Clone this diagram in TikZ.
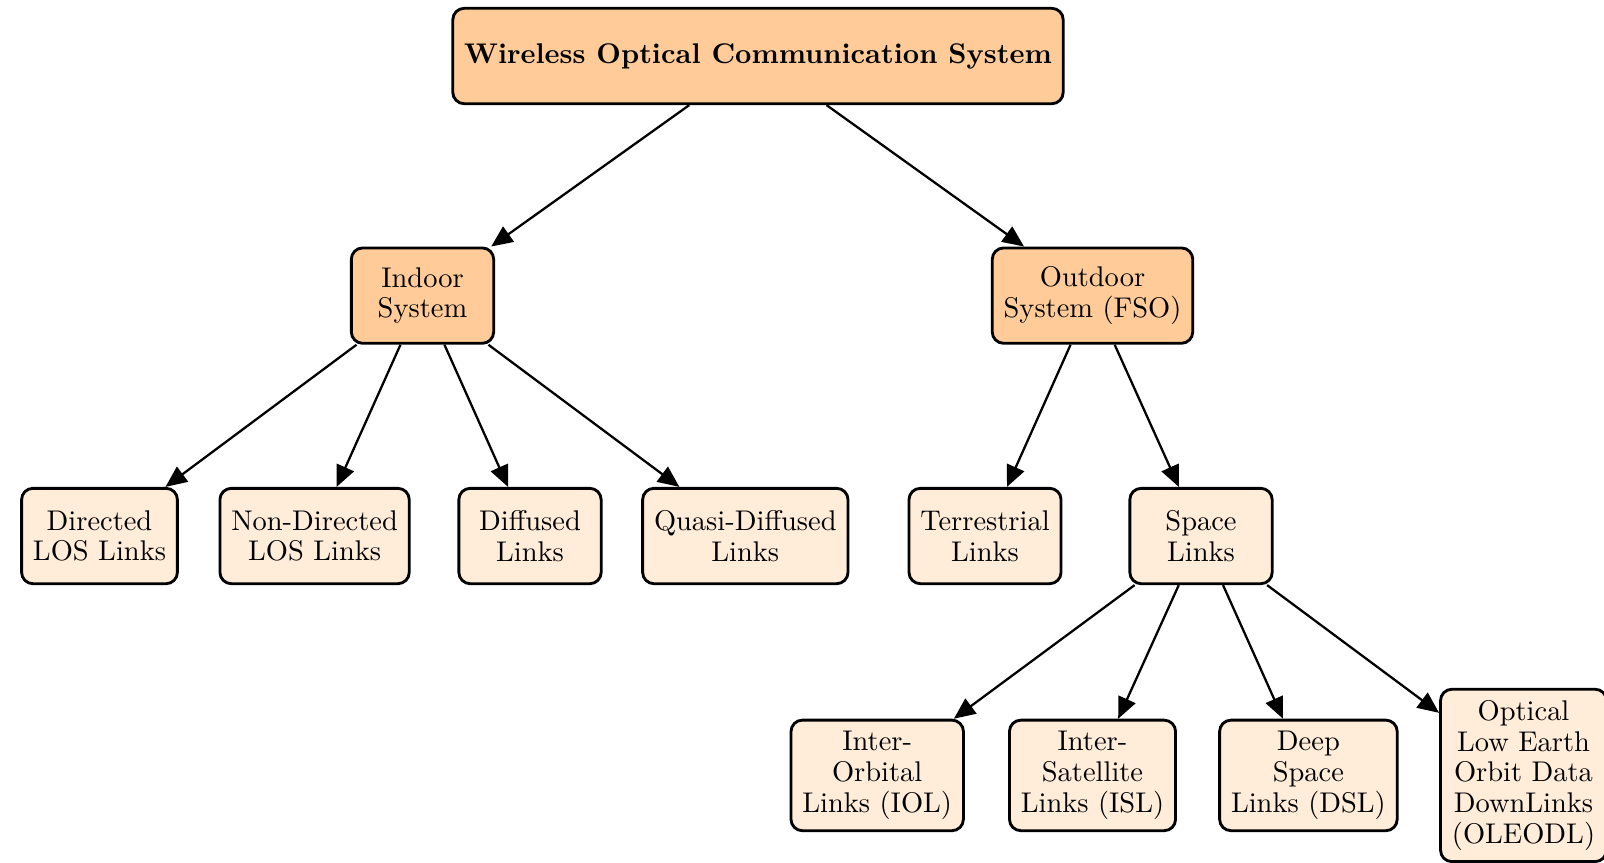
\documentclass[tikz,border=0pt]{standalone}
\usetikzlibrary{arrows.meta}

\begin{document}
\begin{tikzpicture}[x=0.01234cm,y=-0.01234cm,
    box/.style={draw, line width=1pt, rounded corners=4pt, align=center,
      inner sep=4pt, minimum width=50pt, minimum height=33.5pt,
      font=\fontsize{10}{10.75}\selectfont},
    rootbox/.style={box, fill=orange!40, font=\bfseries},
    midbox/.style={box, fill=orange!40},
    leafbox/.style={box, fill=orange!15},
    arr/.style={-{Triangle[length=7.5pt,width=6.5pt]}, line width=0.8pt}]
    \useasboundingbox (0,0) rectangle (1604,862);

    % root
    \node[rootbox] (wocs) at (758,56) {Wireless Optical Communication System};

    % second level
    \node[midbox] (indoor)  at (422.5,295.6) {Indoor\\System};
    \node[midbox] (outdoor) at (1092.5,295.6) {Outdoor\\System (FSO)};

    % third level
    \node[leafbox] (directed)    at (99.5,536)  {Directed\\LOS Links};
    \node[leafbox] (nondirected) at (314.6,536) {Non-Directed\\LOS Links};
    \node[leafbox] (diffused)    at (530,536)   {Diffused\\Links};
    \node[leafbox] (quasi)       at (745.3,536) {Quasi-Diffused\\Links};
    \node[leafbox] (terrestrial) at (985,536)   {Terrestrial\\Links};
    \node[leafbox] (space)       at (1201,536)  {Space\\Links};

    % space links
    \node[leafbox] (interorbital) at (877.2,775.4)  {Inter-\\Orbital\\Links (IOL)};
    \node[leafbox] (intersat)     at (1092.5,775.4) {Inter-\\Satellite\\Links (ISL)};
    \node[leafbox] (deepspace)    at (1308.4,775.4) {Deep\\Space\\Links (DSL)};
    \node[leafbox] (oleodl)       at (1523.5,775.4) {Optical\\Low Earth\\Orbit Data\\DownLinks\\(OLEODL)};

    % connectors
    \draw[arr] (wocs) -- (indoor);
    \draw[arr] (wocs) -- (outdoor);
    \foreach \c in {directed,nondirected,diffused,quasi}
      \draw[arr] (indoor) -- (\c);
    \foreach \c in {terrestrial,space}
      \draw[arr] (outdoor) -- (\c);
    \foreach \c in {interorbital,intersat,deepspace,oleodl}
      \draw[arr] (space) -- (\c);
\end{tikzpicture}
\end{document}
